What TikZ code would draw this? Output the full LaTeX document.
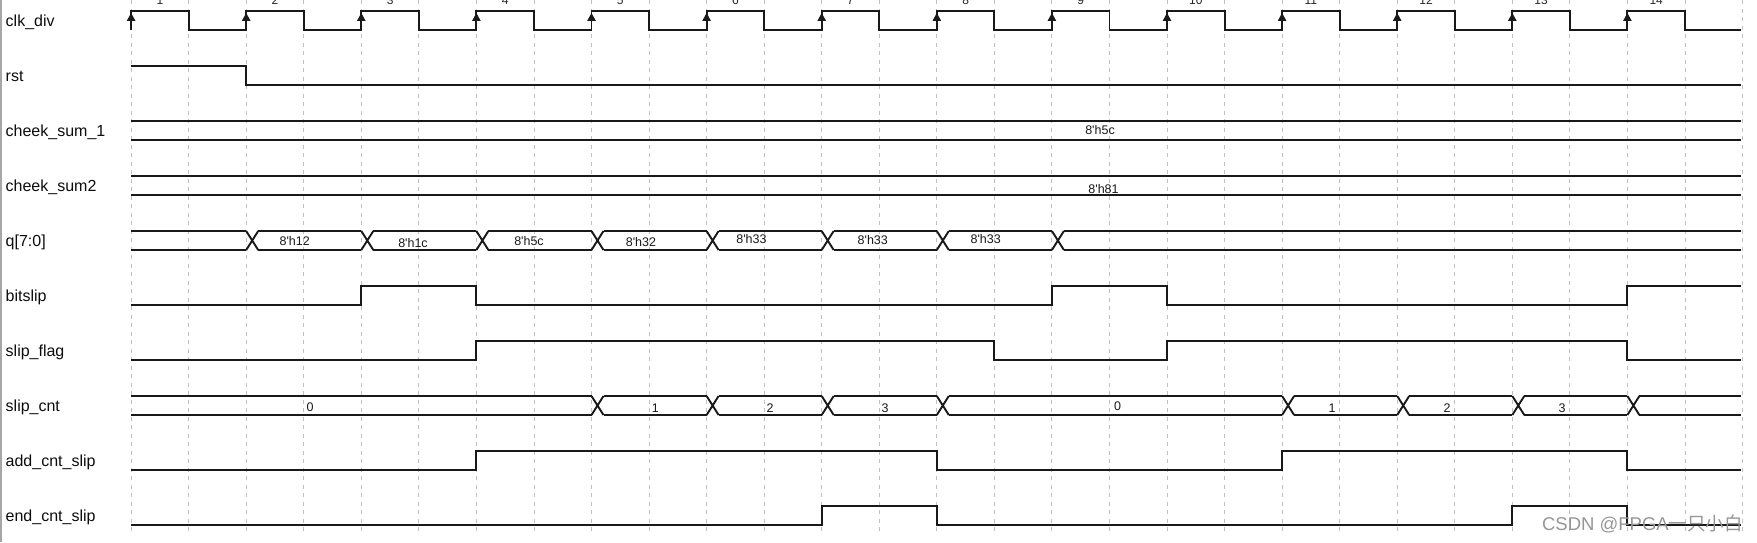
\documentclass[tikz,border=0pt]{standalone}
\usepackage{fontspec}
\setmainfont{Liberation Sans}
\newfontfamily\cjkfont{Noto Sans CJK SC}
\definecolor{wavecol}{RGB}{25,25,25}
\definecolor{gridcol}{RGB}{192,192,192}
\definecolor{wmcol}{RGB}{150,150,150}
\tikzset{
  wave/.style={draw=wavecol, line width=1.9, line join=miter},
  gridline/.style={draw=gridcol, line width=0.9, dash pattern=on 4 off 4.5},
  sig/.style={anchor=base west, font=\fontsize{16}{18}\selectfont, text=black!95, inner sep=0},
  val/.style={anchor=base, font=\fontsize{12.5}{15}\selectfont, text=black!90, inner sep=0},
  cnum/.style={anchor=base, font=\fontsize{12}{14}\selectfont, text=black!85, inner sep=0},
}
\newcommand\busseg[3]{\draw[wave] ({#2},{11+55*#1}) -- ({#3},{11+55*#1}) ({#2},{30+55*#1}) -- ({#3},{30+55*#1});}
\newcommand\busx[2]{\draw[wave] ({ed(#2)},{11+55*#1}) -- ({ed(#2)+12},{30+55*#1}) ({ed(#2)},{30+55*#1}) -- ({ed(#2)+12},{11+55*#1});}
\begin{document}
\begin{tikzpicture}[x=1pt, y=-1pt, declare function={ed(\k)=131.1+115.1*(\k-1); hi(\i)=11+55*\i; lo(\i)=30+55*\i;}]
\useasboundingbox (0,0) rectangle (1757,542);
\fill[white] (0,0) rectangle (1757,542);
% left border
\draw[gray!70, line width=1.5] (0.75,0) -- (0.75,542);
% grid
\foreach \j in {0,...,28} {\draw[gridline] ({131.1+57.55*\j},0) -- ({131.1+57.55*\j},535);}
% clock
\draw[wave] (131.1,{lo(0)}) foreach \k in {1,...,14} { -- ({ed(\k)},{lo(0)}) -- ({ed(\k)},{hi(0)}) -- ({ed(\k)+57.55},{hi(0)}) -- ({ed(\k)+57.55},{lo(0)}) } -- (1741,{lo(0)});
\foreach \k in {1,...,14} {
  \fill[wavecol] ({ed(\k)-4.3},20.8) -- ({ed(\k)+4.3},20.8) -- ({ed(\k)},13) -- cycle;
  \node[cnum] (cn\k) at ({ed(\k)+28.8},4.3) {\k};
}
% rst
\draw[wave] (131.1,{hi(1)}) -- ({ed(2)},{hi(1)}) -- ({ed(2)},{lo(1)}) -- (1741,{lo(1)});
% cheek_sum_1, cheek_sum2
\busseg{2}{131.1}{1741}
\busseg{3}{131.1}{1741}
% q[7:0]
\busseg{4}{131.1}{ed(2)}
\foreach \k in {2,...,8} {\busx{4}{\k}\busseg{4}{ed(\k)+12}{ed(\k+1)}}
\busx{4}{9}
\busseg{4}{ed(9)+12}{1741}
% bitslip
\draw[wave] (131.1,{lo(5)}) -- ({ed(3)},{lo(5)}) -- ({ed(3)},{hi(5)}) -- ({ed(4)},{hi(5)}) -- ({ed(4)},{lo(5)}) -- ({ed(9)},{lo(5)}) -- ({ed(9)},{hi(5)}) -- ({ed(10)},{hi(5)}) -- ({ed(10)},{lo(5)}) -- ({ed(14)},{lo(5)}) -- ({ed(14)},{hi(5)}) -- (1741,{hi(5)});
% slip_flag
\draw[wave] (131.1,{lo(6)}) -- ({ed(4)},{lo(6)}) -- ({ed(4)},{hi(6)}) -- ({ed(8)+57.55},{hi(6)}) -- ({ed(8)+57.55},{lo(6)}) -- ({ed(10)},{lo(6)}) -- ({ed(10)},{hi(6)}) -- ({ed(14)},{hi(6)}) -- ({ed(14)},{lo(6)}) -- (1741,{lo(6)});
% slip_cnt
\busseg{7}{131.1}{ed(5)}
\foreach \a/\b in {5/6,6/7,7/8,8/11,11/12,12/13,13/14} {\busx{7}{\a}\busseg{7}{ed(\a)+12}{ed(\b)}}
\busx{7}{14}
\busseg{7}{ed(14)+12}{1741}
% add_cnt_slip
\draw[wave] (131.1,{lo(8)}) -- ({ed(4)},{lo(8)}) -- ({ed(4)},{hi(8)}) -- ({ed(8)},{hi(8)}) -- ({ed(8)},{lo(8)}) -- ({ed(11)},{lo(8)}) -- ({ed(11)},{hi(8)}) -- ({ed(14)},{hi(8)}) -- ({ed(14)},{lo(8)}) -- (1741,{lo(8)});
% end_cnt_slip
\draw[wave] (131.1,{lo(9)}) -- ({ed(7)},{lo(9)}) -- ({ed(7)},{hi(9)}) -- ({ed(8)},{hi(9)}) -- ({ed(8)},{lo(9)}) -- ({ed(13)},{lo(9)}) -- ({ed(13)},{hi(9)}) -- ({ed(14)},{hi(9)}) -- ({ed(14)},{lo(9)}) -- (1741,{lo(9)});
% signal names
\node[sig] (l0) at (5.5,26.25) {clk\_div};
\node[sig] (l1) at (5.5,81.25) {rst};
\node[sig] (l2) at (5.5,136.25) {cheek\_sum\_1};
\node[sig] (l3) at (5.5,191.25) {cheek\_sum2};
\node[sig] (l4) at (5.5,246.25) {q[7:0]};
\node[sig] (l5) at (5.5,301.25) {bitslip};
\node[sig] (l6) at (5.5,356.25) {slip\_flag};
\node[sig] (l7) at (5.5,411.25) {slip\_cnt};
\node[sig] (l8) at (5.5,466.25) {add\_cnt\_slip};
\node[sig] (l9) at (5.5,521.25) {end\_cnt\_slip};
% values
\node[val] (v1) at (1100,134.5) {8\textquotesingle h5c};
\node[val] (v2) at (1103.5,193.5) {8\textquotesingle h81};
\node[val] (q1) at (294.7,245.2) {8\textquotesingle h12};
\node[val] (q2) at (413,247.2) {8\textquotesingle h1c};
\node[val] (q3) at (529,245.8) {8\textquotesingle h5c};
\node[val] (q4) at (641,246.2) {8\textquotesingle h32};
\node[val] (q5) at (751.5,243.8) {8\textquotesingle h33};
\node[val] (q6) at (872.8,244.8) {8\textquotesingle h33};
\node[val] (q7) at (985.7,243.8) {8\textquotesingle h33};
\node[val] (c1) at (310,411.8) {0};
\node[val] (c2) at (655.4,412) {1};
\node[val] (c3) at (770,412) {2};
\node[val] (c4) at (885,412) {3};
\node[val] (c5) at (1117.7,410.5) {0};
\node[val] (c6) at (1332,412) {1};
\node[val] (c7) at (1447,412) {2};
\node[val] (c8) at (1562,412) {3};
% watermark
\node[anchor=base east, inner sep=0, text=wmcol, font=\fontsize{18.5}{20}\selectfont] (wm) at (1743,530) {CSDN @FPGA{\cjkfont 一只小白}};
\end{tikzpicture}
\end{document}
